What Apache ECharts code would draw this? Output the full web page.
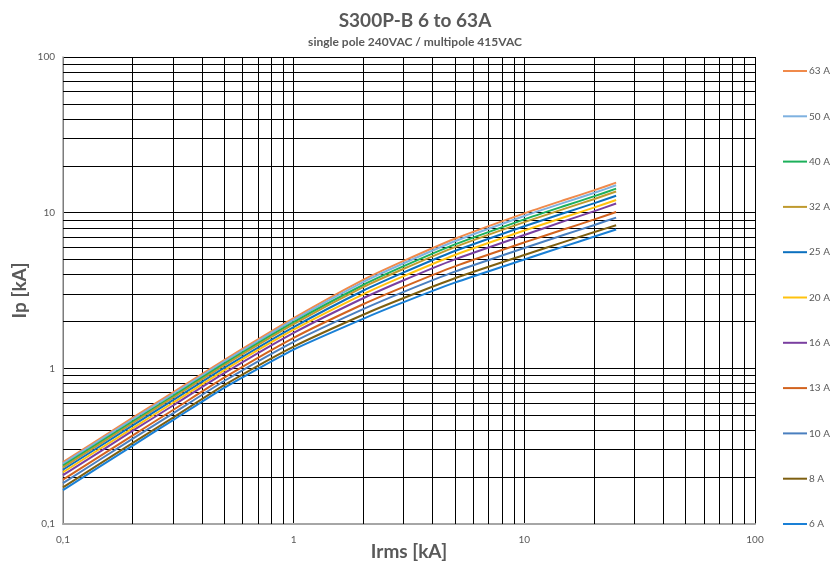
<!DOCTYPE html>
<html>
<head>
<meta charset="utf-8">
<script src="https://cdn.jsdelivr.net/npm/echarts@6/dist/echarts.min.js"></script>
<style>html,body{margin:0;padding:0;background:#fff}#c{width:831px;height:563px}</style>
</head>
<body>
<div id="c"></div>
<script>
const xVals = [0.1, 0.2, 0.3, 0.5, 1, 2, 3, 5, 10, 15, 20, 25];
const seriesNames = ['63 A', '50 A', '40 A', '32 A', '25 A', '20 A', '16 A', '13 A', '10 A', '8 A', '6 A'];
const ip63 = [0.250, 0.480, 0.700, 1.130, 2.10, 3.70, 4.90, 6.80, 9.90, 12.10, 13.90, 15.60];
const ip50 = [0.244, 0.469, 0.684, 1.104, 2.05, 3.58, 4.73, 6.55, 9.52, 11.64, 13.37, 14.99];
const ip40 = [0.237, 0.455, 0.664, 1.071, 1.98, 3.43, 4.53, 6.25, 9.06, 11.07, 12.72, 14.26];
const ip32 = [0.231, 0.444, 0.648, 1.045, 1.92, 3.32, 4.36, 6.01, 8.69, 10.62, 12.20, 13.68];
const ip25 = [0.223, 0.428, 0.624, 1.007, 1.84, 3.15, 4.13, 5.67, 8.18, 9.98, 11.47, 12.84];
const ip20 = [0.215, 0.412, 0.601, 0.971, 1.77, 2.99, 3.91, 5.35, 7.68, 9.38, 10.77, 12.07];
const ip16 = [0.206, 0.396, 0.577, 0.931, 1.69, 2.82, 3.68, 5.01, 7.18, 8.85, 10.20, 11.45];
const ip13 = [0.193, 0.370, 0.540, 0.871, 1.57, 2.58, 3.34, 4.52, 6.44, 7.85, 9.02, 10.10];
const ip10 = [0.183, 0.352, 0.514, 0.829, 1.48, 2.40, 3.10, 4.18, 5.93, 7.24, 8.31, 9.30];
const ip8 = [0.172, 0.331, 0.483, 0.780, 1.38, 2.21, 2.83, 3.79, 5.35, 6.52, 7.49, 8.30];
const ip6 = [0.165, 0.318, 0.465, 0.750, 1.32, 2.08, 2.66, 3.55, 5.00, 6.10, 7.00, 7.80];
const seriesColors = ['#F08A4B', '#7EB1E0', '#1CB05A', '#BF9A2E', '#0B70BF', '#FFC20E', '#7A3FA0', '#D2631E', '#4A7FBF', '#7E5F10', '#1A80D6'];
const minorTicks = [0.2, 0.3, 0.4, 0.5, 0.6, 0.7, 0.8, 0.9, 2, 3, 4, 5, 6, 7, 8, 9, 20, 30, 40, 50, 60, 70, 80, 90];

const allSeries = [ip63, ip50, ip40, ip32, ip25, ip20, ip16, ip13, ip10, ip8, ip6];
const fmt = v => String(v).replace('.', ',');
const font = 'Lato, "Open Sans", sans-serif';

const series = allSeries.map((arr, i) => ({
  name: seriesNames[i],
  type: 'line',
  data: xVals.map((x, j) => [x, arr[j]]),
  smooth: 0.2,
  symbol: 'none',
  z: 3,
  lineStyle: { width: 2, color: seriesColors[i] },
  itemStyle: { color: seriesColors[i] }
}));

const mlData = [];
minorTicks.forEach(v => { mlData.push({ xAxis: v }); mlData.push({ yAxis: v }); });
series.push({
  name: 'grid',
  type: 'line',
  data: [],
  z: 1,
  markLine: {
    silent: true,
    symbol: ['none', 'none'],
    label: { show: false },
    animation: false,
    z: 1,
    lineStyle: { color: '#000', width: 1, type: 'solid' },
    data: mlData
  }
});

const chart = echarts.init(document.getElementById('c'));
chart.setOption({
  animation: false,
  backgroundColor: '#fff',
  title: {
    text: 'S300P-B 6 to 63A',
    subtext: 'single pole 240VAC / multipole 415VAC',
    left: 410, top: 6, textAlign: 'center',
    itemGap: 6,
    textStyle: { fontFamily: font, fontSize: 19, fontWeight: 'bold', color: '#595959' },
    subtextStyle: { fontFamily: font, fontSize: 12, fontWeight: 'bold', color: '#595959' }
  },
  legend: {
    data: seriesNames,
    orient: 'vertical',
    left: 783, top: 65,
    padding: 0,
    icon: 'rect',
    itemWidth: 24, itemHeight: 2,
    itemGap: 33.3,
    textStyle: { fontFamily: font, fontSize: 10, color: '#595959', lineHeight: 12, padding: [0, 0, 0, -3] }
  },
  grid: { left: 63, right: 76, top: 57, bottom: 39, containLabel: false, outerBoundsMode: 'none' },
  xAxis: {
    type: 'log', logBase: 10, min: 0.1, max: 100,
    name: 'Irms [kA]', nameLocation: 'middle', nameGap: 18, nameMoveOverlap: false,
    nameTextStyle: { fontFamily: font, fontSize: 19, fontWeight: 'bold', color: '#595959' },
    axisLine: { show: true, lineStyle: { color: '#A6A6A6', width: 2 } },
    axisTick: { show: false },
    axisLabel: { fontFamily: font, fontSize: 10, color: '#595959', margin: 11, formatter: fmt },
    splitLine: { show: true, lineStyle: { color: '#000', width: 1 } }
  },
  yAxis: {
    type: 'log', logBase: 10, min: 0.1, max: 100,
    name: 'Ip [kA]', nameLocation: 'middle', nameGap: 34, nameRotate: 90, nameMoveOverlap: false,
    nameTextStyle: { fontFamily: font, fontSize: 19, fontWeight: 'bold', color: '#595959' },
    axisLine: { show: true, lineStyle: { color: '#A6A6A6', width: 1.5 } },
    axisTick: { show: false },
    axisLabel: { fontFamily: font, fontSize: 10, color: '#595959', margin: 8, formatter: fmt },
    splitLine: { show: true, lineStyle: { color: '#000', width: 1 } }
  },
  series: series
});
</script>
</body>
</html>
